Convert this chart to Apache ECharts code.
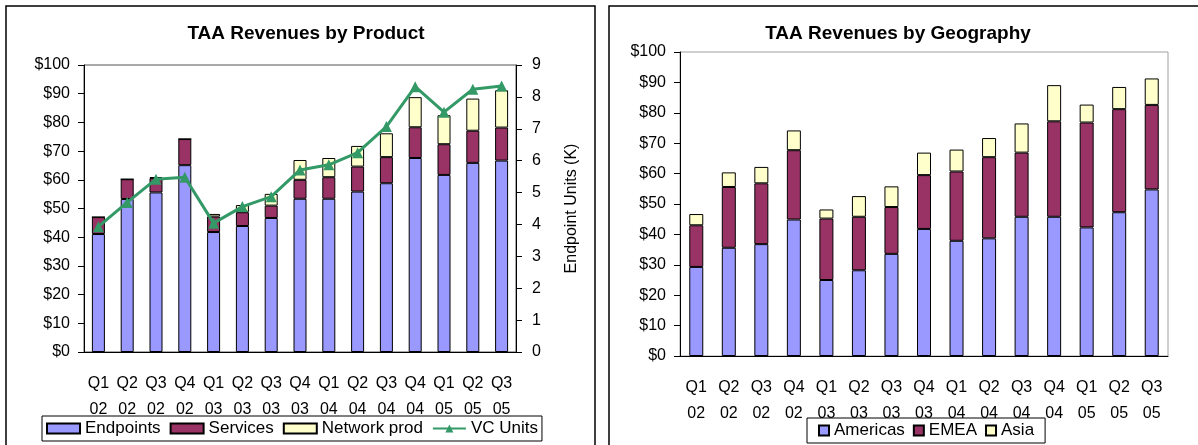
<!DOCTYPE html>
<html>
<head>
<meta charset="utf-8">
<script src="https://cdn.jsdelivr.net/npm/echarts@6/dist/echarts.min.js"></script>
<style>
  html, body { margin: 0; padding: 0; background: #fff; }
  #main { width: 1198px; height: 445px; }
</style>
</head>
<body>
<div id="main"></div>
<script>
// quarters, same for both panels
const quarters = ['Q1\n02','Q2\n02','Q3\n02','Q4\n02','Q1\n03','Q2\n03','Q3\n03','Q4\n03',
                  'Q1\n04','Q2\n04','Q3\n04','Q4\n04','Q1\n05','Q2\n05','Q3\n05'];

// left panel - revenues by product ($M)
const endpoints  = [41.1, 53.3, 55.6, 65.1, 41.8, 43.9, 46.7, 53.4, 53.4, 55.9, 58.8, 67.6, 61.7, 65.9, 66.7];
const services   = [5.9, 6.9, 5.0, 9.1, 5.4, 4.8, 4.3, 6.6, 7.5, 8.7, 9.1, 10.7, 10.7, 11.2, 11.5];
const networkProd = [0, 0, 0.3, 0, 0.9, 2.5, 4.1, 6.9, 6.7, 7.2, 8.3, 10.5, 10.1, 11.2, 13.0];
const vcUnits    = [3.93, 4.69, 5.42, 5.48, 4.04, 4.56, 4.87, 5.71, 5.87, 6.25, 7.07, 8.32, 7.52, 8.24, 8.34];

// right panel - revenues by geography ($M)
const americas = [29.3, 35.6, 36.8, 44.9, 25.0, 28.2, 33.6, 41.8, 37.9, 38.7, 45.8, 45.8, 42.3, 47.3, 54.8];
const emea     = [13.7, 20.0, 20.0, 22.8, 20.2, 17.6, 15.4, 17.7, 22.8, 26.7, 21.1, 31.4, 34.5, 33.9, 27.8];
const asia     = [3.7, 4.8, 5.4, 6.5, 3.0, 6.8, 6.8, 7.4, 7.2, 6.3, 9.6, 11.9, 5.9, 7.3, 8.7];

const FONT = '"Liberation Sans", Arial, sans-serif';
const C_BLUE = '#9999ff', C_RED = '#993366', C_YEL = '#ffffcc', C_GREEN = '#339966';

const barStyle = c => ({ color: c, borderColor: '#000', borderWidth: 1 });
const lbl = { color: '#000', fontSize: 16, fontFamily: FONT };
const legendTxt = { color: '#000', fontSize: 17, fontFamily: FONT };

const chart = echarts.init(document.getElementById('main'));
chart.setOption({
  animation: false,
  textStyle: { fontFamily: FONT },
  graphic: [
    { type: 'rect', shape: { x: 6, y: 6, width: 589, height: 460 },
      style: { fill: 'none', stroke: '#000', lineWidth: 1.5 } },
    { type: 'rect', shape: { x: 609, y: 6, width: 600, height: 460 },
      style: { fill: 'none', stroke: '#000', lineWidth: 1.5 } }
  ],
  title: [
    { text: 'TAA Revenues by Product', left: 301, top: 19, textAlign: 'center',
      textStyle: { fontSize: 19, fontWeight: 'bold', color: '#000', fontFamily: FONT } },
    { text: 'TAA Revenues by Geography', left: 893, top: 19, textAlign: 'center',
      textStyle: { fontSize: 19, fontWeight: 'bold', color: '#000', fontFamily: FONT } }
  ],
  legend: [
    { data: [
        { name: 'Endpoints', icon: 'rect' },
        { name: 'Services', icon: 'rect' },
        { name: 'Network prod', icon: 'rect' },
        'VC Units'],
      left: 42, top: 416, itemWidth: 33, itemHeight: 10, itemGap: 9,
      padding: [4, 4], borderColor: '#000', borderWidth: 1,
      textStyle: legendTxt },
    { data: [
        { name: 'Americas', icon: 'rect' },
        { name: 'EMEA', icon: 'rect' },
        { name: 'Asia', icon: 'rect' }],
      left: 807, top: 418, itemWidth: 10, itemHeight: 10, itemGap: 8,
      padding: [4, 11], borderColor: '#000', borderWidth: 1,
      textStyle: legendTxt }
  ],
  grid: [
    { left: 84, top: 65, right: 682, bottom: 93, show: true, borderColor: '#555', borderWidth: 1 },
    { left: 680, top: 52, right: 30, bottom: 89, show: true, borderColor: '#a0a0a0', borderWidth: 1 }
  ],
  xAxis: [
    { type: 'category', gridIndex: 0, data: quarters,
      axisLine: { lineStyle: { color: '#000' } },
      axisTick: { length: 5, lineStyle: { color: '#000' } },
      axisLabel: Object.assign({ margin: 19, lineHeight: 26, interval: 0 }, lbl) },
    { type: 'category', gridIndex: 1, data: quarters,
      axisLine: { lineStyle: { color: '#000' } },
      axisTick: { length: 5, lineStyle: { color: '#000' } },
      axisLabel: Object.assign({ margin: 19, lineHeight: 26, interval: 0 }, lbl) }
  ],
  yAxis: [
    { type: 'value', gridIndex: 0, min: 0, max: 100, interval: 10,
      axisLine: { show: true, lineStyle: { color: '#000' } },
      axisTick: { show: true, length: 6, lineStyle: { color: '#000' } },
      splitLine: { show: false },
      axisLabel: Object.assign({ margin: 14, formatter: '${value}' }, lbl) },
    { type: 'value', gridIndex: 0, position: 'right', min: 0, max: 9, interval: 1,
      name: 'Endpoint Units (K)', nameLocation: 'middle', nameRotate: 90, nameGap: 48,
      nameTextStyle: lbl,
      axisLine: { show: true, lineStyle: { color: '#000' } },
      axisTick: { show: true, length: 6, lineStyle: { color: '#000' } },
      splitLine: { show: false },
      axisLabel: Object.assign({ margin: 16 }, lbl) },
    { type: 'value', gridIndex: 1, min: 0, max: 100, interval: 10,
      axisLine: { show: true, lineStyle: { color: '#000' } },
      axisTick: { show: true, length: 6, lineStyle: { color: '#000' } },
      splitLine: { show: false },
      axisLabel: Object.assign({ margin: 14, formatter: '${value}' }, lbl) }
  ],
  series: [
    { name: 'Endpoints', type: 'bar', stack: 'p', xAxisIndex: 0, yAxisIndex: 0,
      barWidth: 13, data: endpoints, itemStyle: barStyle(C_BLUE) },
    { name: 'Services', type: 'bar', stack: 'p', xAxisIndex: 0, yAxisIndex: 0,
      barWidth: 13, data: services, itemStyle: barStyle(C_RED) },
    { name: 'Network prod', type: 'bar', stack: 'p', xAxisIndex: 0, yAxisIndex: 0,
      barWidth: 13, data: networkProd, itemStyle: barStyle(C_YEL) },
    { name: 'VC Units', type: 'line', xAxisIndex: 0, yAxisIndex: 1,
      data: vcUnits, symbol: 'triangle', symbolSize: 11,
      lineStyle: { color: C_GREEN, width: 3 }, itemStyle: { color: C_GREEN } },
    { name: 'Americas', type: 'bar', stack: 'g', xAxisIndex: 1, yAxisIndex: 2,
      barWidth: 14, data: americas, itemStyle: barStyle(C_BLUE) },
    { name: 'EMEA', type: 'bar', stack: 'g', xAxisIndex: 1, yAxisIndex: 2,
      barWidth: 14, data: emea, itemStyle: barStyle(C_RED) },
    { name: 'Asia', type: 'bar', stack: 'g', xAxisIndex: 1, yAxisIndex: 2,
      barWidth: 14, data: asia, itemStyle: barStyle(C_YEL) }
  ]
});
</script>
</body>
</html>
